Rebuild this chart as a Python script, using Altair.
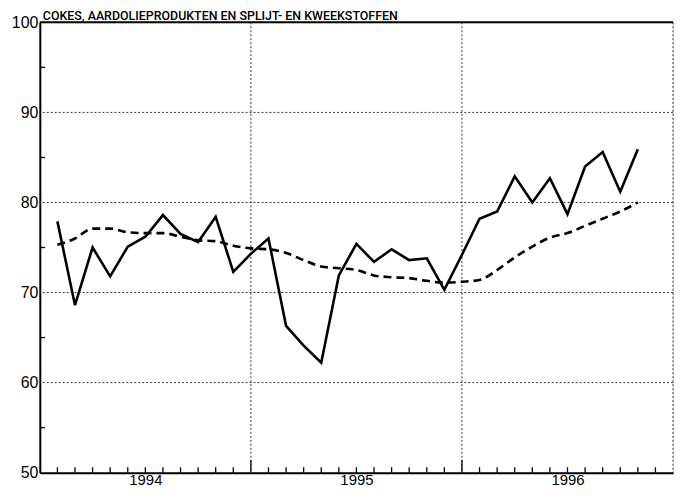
import altair as alt
import pandas as pd

# month index: 0 = start of Jan 1994, 36 = end of Dec 1996
months = list(range(1, 35))
solid = [77.9, 68.6, 75.0, 71.8, 75.1, 76.2, 78.6, 76.5, 75.6, 78.4,
         72.3, 74.3, 76.0, 66.3, 64.1, 62.2, 71.9, 75.4, 73.4, 74.8,
         73.6, 73.8, 70.3, 74.2, 78.2, 79.0, 82.9, 80.0, 82.7, 78.7,
         84.0, 85.6, 81.2, 85.9]
trend = [75.3, 76.0, 77.1, 77.1, 76.7, 76.6, 76.6, 76.2, 75.8, 75.7,
         75.2, 74.9, 74.8, 74.4, 73.6, 72.9, 72.7, 72.5, 71.9, 71.7,
         71.6, 71.3, 71.1, 71.2, 71.4, 72.5, 73.9, 75.1, 76.1, 76.6,
         77.4, 78.2, 79.0, 80.0]
year_labels = ["1994", "1995", "1996"]
year_centers = [6, 18, 30]
y_labels = [50, 60, 70, 80, 90, 100]
h_grid = [60, 70, 80, 90]
v_grid = [12, 24, 36]
y_minor = [55, 65, 75, 85, 95]
title_text = "COKES, AARDOLIEPRODUKTEN EN SPLIJT- EN KWEEKSTOFFEN"

FONT = "Liberation Sans"

df = pd.DataFrame({"m": months, "solid": solid, "trend": trend})
xs = alt.Scale(domain=[0, 36], nice=False, zero=False)
ys = alt.Scale(domain=[50, 100], nice=False, zero=False)

label_expr = ("datum.value == 6 ? '" + year_labels[0] + "' : datum.value == 18 ? '"
              + year_labels[1] + "' : datum.value == 30 ? '" + year_labels[2] + "' : ''")
x_axis = alt.Axis(values=year_centers, labelExpr=label_expr, ticks=False, grid=False,
                  domain=True, domainColor="black", domainWidth=2, labelFontSize=15,
                  labelColor="black", labelFont=FONT, labelPadding=0, title=None)
y_axis = alt.Axis(values=y_labels, ticks=False, grid=False, domain=True, domainColor="black",
                  domainWidth=2, labelFontSize=16, labelColor="black", labelFont=FONT,
                  labelPadding=2, title=None)

def X(field):
    return alt.X(field, type="quantitative", scale=xs, axis=x_axis)

def Y(field):
    return alt.Y(field, type="quantitative", scale=ys, axis=y_axis)

hg = alt.Chart(pd.DataFrame({"v": h_grid})).mark_rule(
    color="#333", strokeWidth=1, strokeDash=[2, 2]).encode(y=Y("v:Q"))
vg = alt.Chart(pd.DataFrame({"v": v_grid})).mark_rule(
    color="#333", strokeWidth=1, strokeDash=[2, 2]).encode(x=X("v:Q"))
top = alt.Chart(pd.DataFrame({"v": [100]})).mark_rule(
    color="black", strokeWidth=2).encode(y=Y("v:Q"))

tick_df = pd.DataFrame({"m": list(range(1, 36))})
tick_df["top"] = [51.4 if m in (12, 24) else 50.6 for m in tick_df["m"]]
tick_df["base"] = 50
xticks = alt.Chart(tick_df).mark_rule(color="black", strokeWidth=1.3).encode(
    x=X("m:Q"), y=Y("base:Q"), y2="top:Q")

ym_df = pd.DataFrame({"v": y_minor, "x0": 0, "x1": 0.3})
yticks = alt.Chart(ym_df).mark_rule(color="black", strokeWidth=1.3).encode(
    y=Y("v:Q"), x=X("x0:Q"), x2="x1:Q")

title_df = pd.DataFrame({"t": [title_text], "x": [0], "y": [100]})
title = alt.Chart(title_df).mark_text(
    align="left", baseline="alphabetic", dx=3, dy=-2, fontSize=12.5,
    font="Roboto", fontWeight=500,
    color="black").encode(x=X("x:Q"), y=Y("y:Q"), text="t:N")

line_solid = alt.Chart(df).mark_line(color="black", strokeWidth=2.6).encode(
    x=X("m:Q"), y=Y("solid:Q"))
line_trend = alt.Chart(df).mark_line(color="black", strokeWidth=2.6, strokeDash=[8, 5],
                                     interpolate="monotone").encode(
    x=X("m:Q"), y=Y("trend:Q"))

chart = alt.layer(hg, vg, top, xticks, yticks, line_trend, line_solid, title).properties(
    width=637, height=453,
    autosize=alt.AutoSizeParams(type="none"),
    padding={"left": 32, "top": 13, "right": 4, "bottom": 14},
).configure_view(stroke=None).configure(background="white")

chart.save("out.html", embed_options={"renderer": "svg", "actions": False})
